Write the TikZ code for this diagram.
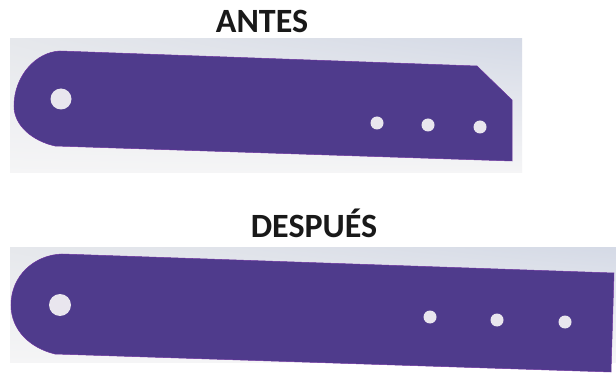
\documentclass[tikz,border=0pt]{standalone}
\usepackage{fontspec}
\usetikzlibrary{shadings}
\setmainfont{Carlito}
\definecolor{barviolet}{HTML}{4F3B8C}
\definecolor{holegrey}{HTML}{E9E6EE}
\definecolor{panelblue}{HTML}{D5DAE6}
\definecolor{panelpale}{HTML}{E6E8EC}
\definecolor{panellow}{HTML}{F5F5F6}
\tikzset{
  titletext/.style={font=\bfseries\fontsize{34}{36}\selectfont,text=black!90,inner sep=0pt,anchor=base},
  barfill/.style={fill=barviolet,draw=barviolet!85!magenta,line width=0.5pt},
  holefill/.style={fill=holegrey},
  panelfill/.style={upper left=panelpale,upper right=panelblue,lower left=panellow,lower right=panellow}
}
\begin{document}
\begin{tikzpicture}[x=1pt,y=-1pt]
\useasboundingbox (0,0) rectangle (616,374);
\fill[white] (0,0) rectangle (616,374);
% panels
\shade[panelfill] (10,39) rectangle (522,173);
\shade[panelfill] (10,248) rectangle (616,362);
% titles
\node[titletext] (antes) at (262,33) {ANTES};
\node[titletext] (despues) at (314,238) {DESPUÉS};
% upper bar
\coordinate (A) at (60,51);
\coordinate (B) at (477,66);
\coordinate (C) at (512,100);
\coordinate (D) at (512,161);
\coordinate (E) at (55,146);
\coordinate (F) at (14,106);
\draw[barfill] (A)--(B)--(C)--(D)--(E) .. controls (33,141) and (14,126) .. (F) .. controls (14,76) and (36,52) .. (A)--cycle;
\fill[holefill] (61,99) circle (10.5);
\foreach \hx/\hy in {377/123,428/125,480/127}
  \fill[holefill] (\hx,\hy) circle (6.5);
% lower bar
\coordinate (P) at (62,254);
\coordinate (Q) at (614,273);
\coordinate (R) at (611,372);
\coordinate (S) at (55,354);
\coordinate (T) at (11,305);
\draw[barfill] (P)--(Q)--(R)--(S) .. controls (30,348) and (11,330) .. (T) .. controls (11,276) and (34,255) .. (P)--cycle;
\fill[holefill] (60,305) circle (11);
\foreach \hx/\hy in {430/317,497/320,565/322}
  \fill[holefill] (\hx,\hy) circle (6.5);
\end{tikzpicture}
\end{document}
